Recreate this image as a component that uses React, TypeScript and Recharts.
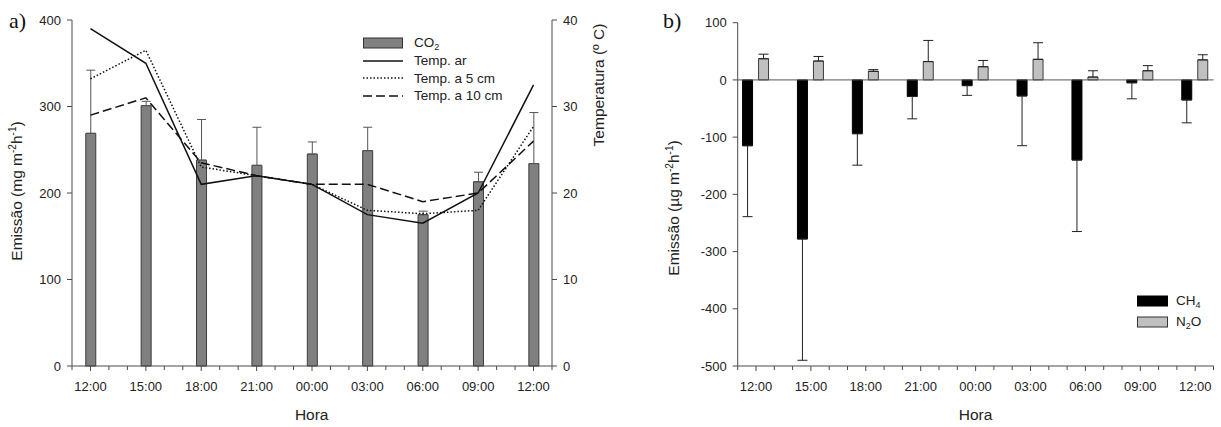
import { Bar, ComposedChart, ErrorBar, Legend, Line, ReferenceLine, XAxis, YAxis } from "recharts";

const hours = ["12:00", "15:00", "18:00", "21:00", "00:00", "03:00", "06:00", "09:00", "12:00"];

// panel a) CO2 emission (mg m-2 h-1) and temperatures (ºC)
const co2 = [269, 301, 238, 232, 245, 249, 175, 213, 234];
const co2Err = [73, 5, 47, 44, 14, 27, 4, 11, 59];
const tempAr = [39, 35, 21, 22, 21, 17.5, 16.5, 20, 32.5];
const temp5 = [33.2, 36.5, 23, 22, 21, 18, 17.6, 18, 27.7];
const temp10 = [29, 31, 23.5, 22, 21, 21, 19, 20, 26];

// panel b) CH4 and N2O emission (µg m-2 h-1)
const ch4 = [-115, -278, -94, -29, -10, -28, -140, -5, -35];
const ch4Err = [124, 212, 55, 39, 17, 87, 125, 28, 40];
const n2o = [37, 33, 15, 32, 23, 36, 5, 16, 35];
const n2oErr = [8, 8, 3, 37, 11, 29, 11, 9, 9];

const co2Ticks = [0, 100, 200, 300, 400];
const tempTicks = [0, 10, 20, 30, 40];
const gasTicks = [-500, -400, -300, -200, -100, 0, 100];
// one tick per hour, from 11:00 to 13:00 of the next day
const hourTicks = Array.from({ length: 27 }, (_, k) => (k - 1) / 3);

const FONT = '"Liberation Sans", Arial, Helvetica, sans-serif';
const AXIS = "#4a4a4a";
const CO2_FILL = "#808080";
const N2O_FILL = "#c0c0c0";

const co2Data = hours.map((hora, i) => ({
  i,
  hora,
  co2: co2[i],
  co2E: [0, co2Err[i]],
  tAr: tempAr[i],
  t5: temp5[i],
  t10: temp10[i],
}));

const gasData = hours.map((hora, i) => ({
  i,
  hora,
  ch4: ch4[i],
  ch4E: [ch4Err[i], 0],
  n2o: n2o[i],
  n2oE: [0, n2oErr[i]],
}));

function HourTick(props: any) {
  const { x, y, payload } = props;
  const v = payload.value;
  const major = Math.abs(v - Math.round(v)) < 1e-6;
  return (
    <g>
      <line x1={x} x2={x} y1={y} y2={y + (major ? 5 : 4)} stroke={AXIS} />
      {major && (
        <text x={x} y={y + 25} textAnchor="middle" fontSize={13} fontFamily={FONT} fill="#222">
          {hours[Math.round(v)]}
        </text>
      )}
    </g>
  );
}

const tickStyle = { fill: "#222", fontSize: 13, fontFamily: FONT };

function VTitle({ x, y, children }: { x: number; y: number; children: any }) {
  return (
    <text
      x={x}
      y={y}
      transform={`rotate(-90 ${x} ${y})`}
      textAnchor="middle"
      fontSize={15.5}
      fontFamily={FONT}
      fill="#222"
    >
      {children}
    </text>
  );
}

function horaLabel(cx: number) {
  return () => (
    <text x={cx} y={419.5} textAnchor="middle" fontSize={15.5} fontFamily={FONT} fill="#222">
      Hora
    </text>
  );
}

function LeftLegend() {
  const row = { display: "flex", alignItems: "center", height: 17.7 } as const;
  const txt = { marginLeft: 11, fontSize: 13.5, color: "#222", whiteSpace: "nowrap" } as const;
  return (
    <div style={{ fontFamily: FONT }}>
      <div style={row}>
        <svg width={40} height={12}>
          <rect x={0.5} y={1} width={39} height={10} fill={CO2_FILL} stroke="#333" />
        </svg>
        <span style={txt}>
          CO<sub style={{ fontSize: 9, lineHeight: 0, verticalAlign: -3 }}>2</sub>
        </span>
      </div>
      <div style={row}>
        <svg width={40} height={12}>
          <line x1={0} x2={40} y1={6} y2={6} stroke="#111" strokeWidth={1.5} />
        </svg>
        <span style={txt}>Temp. ar</span>
      </div>
      <div style={row}>
        <svg width={40} height={12}>
          <line x1={0} x2={40} y1={6} y2={6} stroke="#111" strokeWidth={1.5} strokeDasharray="1.5 2" />
        </svg>
        <span style={txt}>Temp. a 5 cm</span>
      </div>
      <div style={row}>
        <svg width={40} height={12}>
          <line x1={0} x2={40} y1={6} y2={6} stroke="#111" strokeWidth={1.5} strokeDasharray="9 4" />
        </svg>
        <span style={txt}>Temp. a 10 cm</span>
      </div>
    </div>
  );
}

function RightLegend() {
  const row = { display: "flex", alignItems: "center", height: 21 } as const;
  const txt = { marginLeft: 8, fontSize: 13.5, color: "#222", whiteSpace: "nowrap" } as const;
  const s = { fontSize: 9, lineHeight: 0, verticalAlign: -3 } as const;
  return (
    <div style={{ fontFamily: FONT }}>
      <div style={row}>
        <svg width={31} height={12}>
          <rect x={0.5} y={1} width={30} height={10} fill="#000" stroke="#000" />
        </svg>
        <span style={txt}>
          CH<sub style={s}>4</sub>
        </span>
      </div>
      <div style={row}>
        <svg width={31} height={12}>
          <rect x={0.5} y={1} width={30} height={10} fill={N2O_FILL} stroke="#333" />
        </svg>
        <span style={txt}>
          N<sub style={s}>2</sub>O
        </span>
      </div>
    </div>
  );
}

function Co2Chart() {
  return (
    <ComposedChart width={620} height={427} data={co2Data} margin={{ top: 20, right: 0, bottom: 0, left: 0 }}>
      <XAxis
        dataKey="i"
        type="number"
        domain={[-1 / 3, 25 / 3]}
        ticks={hourTicks}
        interval={0}
        tickSize={0}
        tickMargin={0}
        tickLine={false}
        axisLine={{ stroke: AXIS }}
        tick={(p: any) => <HourTick {...p} />}
        height={61}
        label={horaLabel(311.7)}
      />
      <YAxis
        yAxisId="left"
        domain={[0, 400]}
        ticks={co2Ticks}
        width={72}
        tickSize={5}
        tickMargin={6}
        axisLine={{ stroke: AXIS }}
        tickLine={{ stroke: AXIS }}
        tick={tickStyle}
        label={() => (
          <VTitle x={22} y={191}>
            Emissão (mg m
            <tspan dy={-6} fontSize={10}>-2</tspan>
            <tspan dy={6}>h</tspan>
            <tspan dy={-6} fontSize={10}>-1</tspan>
            <tspan dy={6}>)</tspan>
          </VTitle>
        )}
      />
      <YAxis
        yAxisId="right"
        orientation="right"
        domain={[0, 40]}
        ticks={tempTicks}
        width={68}
        tickSize={5}
        tickMargin={6}
        axisLine={{ stroke: AXIS }}
        tickLine={{ stroke: AXIS }}
        tick={tickStyle}
        label={() => <VTitle x={604} y={85}>Temperatura (º C)</VTitle>}
      />
      <Legend
        layout="vertical"
        align="center"
        verticalAlign="middle"
        content={() => <LeftLegend />}
        wrapperStyle={{ left: 363, top: 34, width: "auto", height: "auto" }}
      />
      <Bar yAxisId="left" dataKey="co2" name="CO2" barSize={10} fill={CO2_FILL} stroke="#3c3c3c" strokeWidth={1} isAnimationActive={false}>
        <ErrorBar dataKey="co2E" width={4.5} stroke="#555" strokeWidth={1} />
      </Bar>
      <Line yAxisId="right" dataKey="tAr" name="Temp. ar" stroke="#111" strokeWidth={1.5} dot={false} isAnimationActive={false} />
      <Line yAxisId="right" dataKey="t5" name="Temp. a 5 cm" stroke="#111" strokeWidth={1.5} strokeDasharray="1.5 2" dot={false} isAnimationActive={false} />
      <Line yAxisId="right" dataKey="t10" name="Temp. a 10 cm" stroke="#111" strokeWidth={1.5} strokeDasharray="9 4" dot={false} isAnimationActive={false} />
    </ComposedChart>
  );
}

function GasChart() {
  return (
    <ComposedChart width={601} height={427} data={gasData} margin={{ top: 22.7, right: 7.5, bottom: 0, left: 0 }} barGap={6}>
      <XAxis
        dataKey="i"
        type="number"
        domain={[-1 / 3, 25 / 3]}
        ticks={hourTicks}
        interval={0}
        tickSize={0}
        tickMargin={0}
        tickLine={false}
        axisLine={{ stroke: AXIS }}
        tick={(p: any) => <HourTick {...p} />}
        height={61}
        label={horaLabel(355.6)}
      />
      <YAxis
        domain={[-500, 100]}
        ticks={gasTicks}
        width={117.7}
        tickSize={5}
        tickMargin={6}
        axisLine={{ stroke: AXIS }}
        tickLine={{ stroke: AXIS }}
        tick={tickStyle}
        label={() => (
          <VTitle x={59} y={208}>
            Emissão (µg m
            <tspan dy={-6} fontSize={10}>-2</tspan>
            <tspan dy={6}>h</tspan>
            <tspan dy={-6} fontSize={10}>-1</tspan>
            <tspan dy={6}>)</tspan>
          </VTitle>
        )}
      />
      <ReferenceLine y={0} stroke="#555" />
      <Legend
        layout="vertical"
        align="center"
        verticalAlign="middle"
        content={() => <RightLegend />}
        wrapperStyle={{ left: 517, top: 290, width: "auto", height: "auto" }}
      />
      <Bar dataKey="ch4" name="CH4" barSize={10} fill="#000" stroke="#000" strokeWidth={1} isAnimationActive={false}>
        <ErrorBar dataKey="ch4E" width={5} stroke="#222" strokeWidth={1} />
      </Bar>
      <Bar dataKey="n2o" name="N2O" barSize={10} fill={N2O_FILL} stroke="#3c3c3c" strokeWidth={1} isAnimationActive={false}>
        <ErrorBar dataKey="n2oE" width={5} stroke="#222" strokeWidth={1} />
      </Bar>
    </ComposedChart>
  );
}

const tag = (left: number) =>
  ({
    position: "absolute",
    left,
    top: 9.6,
    fontFamily: '"Liberation Serif", "Times New Roman", serif',
    fontSize: 22,
    lineHeight: "22px",
    color: "#111",
  }) as const;

export default function App() {
  return (
    <div style={{ position: "absolute", left: 0, top: 0, width: 1221, height: 427, background: "#fff", overflow: "hidden" }}>
      <div style={{ position: "absolute", left: 0, top: 0 }}>
        <Co2Chart />
      </div>
      <div style={{ position: "absolute", left: 620, top: 0 }}>
        <GasChart />
      </div>
      <div style={tag(9)}>a)</div>
      <div style={tag(663)}>b)</div>
    </div>
  );
}
